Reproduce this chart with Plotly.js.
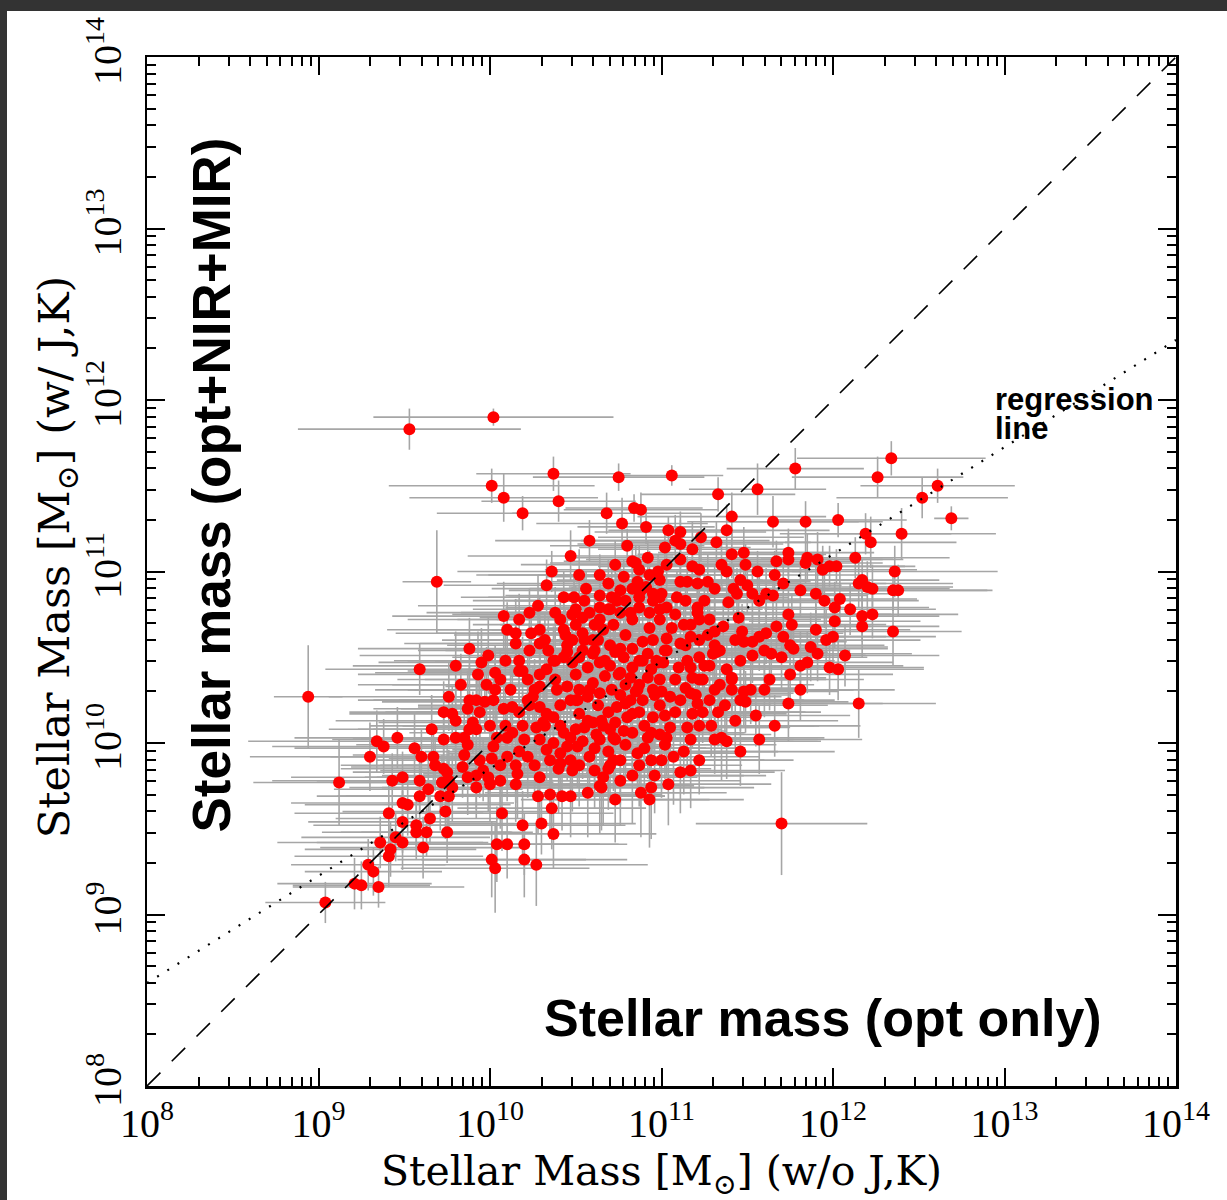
<!DOCTYPE html>
<html><head><meta charset="utf-8">
<script src="https://cdn.plot.ly/plotly-3.0.1.min.js"></script>
<style>
html,body{margin:0;padding:0;background:#333333;width:1227px;height:1200px;overflow:hidden;}
#chart{position:absolute;left:7px;top:11px;width:1220px;height:1189px;background:#ffffff;}
</style></head><body><div id="chart"></div>
<script>
// log10 stellar mass, optical-only fit (x)
const logMassOpt = [
10.02,9.53,10.37,10.75,11.06,10.01,10.08,10.40,10.19,10.84,
10.88,10.68,10.77,10.91,10.58,10.80,11.04,11.02,10.47,10.92,
10.83,10.85,9.69,10.36,10.33,10.78,10.86,10.69,10.56,10.43,
10.49,10.98,11.03,10.88,10.91,10.95,10.28,10.38,10.08,10.54,
10.58,10.64,10.69,10.15,10.15,10.24,10.29,10.29,10.43,10.44,
10.34,10.45,9.99,9.80,9.59,9.93,10.17,10.19,10.29,
11.78,11.33,11.56,12.34,12.26,12.61,12.52,12.69,12.40,12.19,
12.22,12.13,11.41,11.65,11.84,12.03,11.38,11.32,11.23,11.18,
11.11,11.08,11.11,11.18,11.48,11.41,11.35,11.38,11.67,11.74,
11.74,11.56,11.85,11.91,11.84,11.94,11.98,12.02,12.36,12.15,
12.17,12.20,12.23,12.35,12.38,11.71,11.50,11.46,11.42,11.44,
11.27,11.31,11.21,11.15,11.11,11.00,11.09,11.14,11.21,11.21,
10.95,11.03,10.99,10.83,10.87,10.74,10.70,10.76,10.82,10.83,
11.53,11.57,11.61,11.65,11.90,12.04,12.01,11.74,11.76,12.01,
12.17,12.23,12.17,12.35,11.90,11.39,11.45,11.28,11.36,11.31,
11.27,11.13,11.06,10.99,10.93,11.17,11.22,11.11,11.03,10.95,
10.89,11.47,11.43,11.48,11.53,11.57,11.61,11.67,11.71,11.77,
11.70,11.64,11.53,11.87,11.85,11.91,11.81,11.96,12.00,11.31,
11.30,11.38,11.41,11.22,11.17,11.15,11.10,11.01,10.76,10.83,
10.89,10.94,11.98,12.03,
12.15,11.74,11.66,11.70,11.46,11.35,11.38,11.49,11.48,11.60,
11.41,11.41,11.33,11.34,11.24,11.28,11.18,11.24,11.21,11.17,
11.14,11.15,11.13,11.07,11.11,11.05,11.03,11.02,10.95,10.94,
10.92,11.00,10.94,10.86,10.83,10.94,10.88,10.93,10.73,10.78,
10.83,10.73,10.83,10.79,10.72,10.76,10.69,10.66,10.65,10.66,
10.89,10.95,11.00,11.05,10.85,10.82,11.18,11.32,10.98,10.75,
10.70,
8.94,9.12,9.04,9.21,9.25,9.35,9.29,9.32,9.41,9.42,
9.36,9.45,9.49,9.49,9.57,9.57,9.63,9.61,9.41,9.49,
9.52,9.65,9.74,9.75,9.59,9.64,9.43,9.49,9.59,9.30,
9.34,9.38,9.46,9.56,9.60,9.67,9.68,9.73,9.75,9.76,
9.72,9.66,9.73,9.78,9.73,9.80,9.87,9.92,9.76,9.98,
9.97,10.02,9.85,9.87,9.90,9.92,9.84,9.87,9.92,9.96,
9.99,10.00,9.92,9.78,9.76,9.71,10.01,10.07,10.19,10.30,
10.37,10.36,10.28,10.35,10.42,10.47,10.04,10.10,10.20,10.01,
10.03,10.20,10.27,10.06,10.16,10.15,10.22,10.10,10.17,10.02,
10.04,10.10,10.13,10.19,10.27,10.31,10.37,9.94,10.08,10.13,
10.17,10.22,10.25,10.29,10.33,10.29,10.39,10.45,10.52,10.60,
10.64,10.22,10.33,10.37,10.43,10.48,10.52,10.60,10.64,10.78,
10.43,10.47,10.50,10.45,10.51,10.41,10.37,10.33,10.41,10.47,
10.48,10.40,10.55,10.60,10.65,10.58,10.64,10.57,10.64,10.72,
10.74,10.82,10.86,10.97,11.03,10.92,10.51,10.57,10.47,10.57,
10.52,
10.48,10.54,10.60,10.66,10.72,10.79,10.61,10.54,10.70,10.76,10.50,
10.45,10.57,10.67,10.71,10.79,10.87,10.92,10.99,11.08,10.63,
10.69,10.87,10.99,11.08,10.54,10.61,10.69,10.79,10.90,11.02,
11.17,11.22,11.28,11.29,10.52,10.61,10.76,10.96,11.04,11.22,
11.43,11.55,11.57,
9.88,9.95,10.03,10.09,10.12,10.03,10.23,10.32,10.38,10.17,
10.23,10.10,9.88,9.83,9.80,9.85,9.94,10.06,10.15,10.26,
10.29,
10.50,10.55,10.64,10.71,10.79,10.41,10.48,10.61,10.87,10.93,
10.99,11.08,11.17,10.64,10.73,10.52,10.93,11.11,11.22,11.25,
11.49,11.66,11.81,11.95,12.10,12.07,11.75,11.63,11.52,11.81,
11.34,11.46,11.22,
10.63,10.73,10.83,10.67,10.58,10.50,10.41,10.32,10.41,10.73,
10.80,10.90,10.99,11.11,11.20,11.25,11.31,11.37,10.70,10.62,
10.29,10.20,10.09,10.00,9.88,10.06,10.17,10.26,10.50,10.76,
10.96,10.87,11.02,11.14,11.22,10.99,10.87,10.76,10.64,10.55,
10.38,10.23,10.35,10.70,10.87,11.17,11.31,11.46,11.60,11.75
];
// log10 stellar mass, opt+NIR+MIR fit (y)
const logMassAll = [
11.90,11.83,11.57,11.55,11.56,11.50,11.43,11.41,11.34,11.37,
11.36,11.34,11.28,11.26,11.18,11.15,11.24,11.14,11.09,11.08,
11.06,11.05,10.94,11.00,10.92,10.97,10.94,10.93,10.90,10.85,
10.85,11.00,11.04,10.89,10.91,10.87,10.80,10.76,10.74,10.73,
10.76,10.79,10.78,10.64,10.58,10.64,10.66,10.58,10.66,10.63,
10.54,10.57,10.51,10.45,10.43,10.40,10.42,10.42,10.40,
11.60,11.45,11.48,11.66,11.55,11.50,11.43,11.31,11.22,11.22,
11.17,11.08,11.32,11.29,11.29,11.30,11.24,11.17,11.20,11.13,
11.23,11.18,11.16,11.03,11.11,11.10,11.04,11.00,11.06,11.11,
11.07,11.00,11.08,11.07,11.05,11.01,11.03,11.03,11.00,10.93,
10.95,10.91,10.90,10.89,10.89,10.93,10.92,10.95,10.90,10.87,
10.94,10.90,10.93,10.94,10.94,10.87,10.85,10.83,10.79,10.76,
10.83,10.79,10.85,10.90,10.85,10.83,10.78,10.76,10.76,10.72,
10.87,10.83,10.87,10.86,10.87,10.84,10.79,10.75,10.69,10.71,
10.74,10.75,10.68,10.65,10.66,10.82,10.73,10.72,10.68,10.65,
10.63,10.69,10.67,10.72,10.67,10.62,10.60,10.58,10.61,10.60,
10.59,10.65,10.60,10.59,10.59,10.62,10.64,10.68,10.62,10.55,
10.50,10.52,10.51,10.56,10.47,10.52,10.45,10.60,10.62,10.57,
10.52,10.43,10.38,10.50,10.44,10.48,10.44,10.47,10.41,10.44,
10.48,10.43,10.44,10.43,
10.23,10.23,10.10,9.53,9.95,10.03,10.01,10.24,10.30,10.31,
10.31,10.37,10.18,10.34,10.37,10.45,10.17,10.18,10.23,10.29,
10.32,10.09,9.95,9.92,9.83,10.09,10.03,10.16,10.15,10.06,
10.03,9.90,9.90,9.94,9.81,9.74,9.71,9.67,9.67,10.07,
10.06,10.02,10.17,10.23,9.90,9.90,9.85,9.80,9.74,10.10,
10.25,10.31,10.30,10.27,10.30,10.38,10.38,10.53,10.47,10.40,
10.45,
10.27,9.77,9.07,9.18,9.17,9.16,9.29,9.25,9.34,9.38,
9.42,9.45,9.42,9.54,9.52,9.48,9.48,9.39,9.59,9.65,
9.64,9.56,9.60,9.48,9.69,9.73,9.78,9.80,9.78,9.92,
10.01,9.98,10.03,9.97,9.92,9.92,9.87,9.85,9.83,9.78,
9.77,10.08,10.18,10.17,10.02,10.03,10.20,10.25,10.27,10.34,
10.24,10.25,10.03,9.99,10.12,10.08,9.86,9.80,9.81,9.84,
9.80,9.76,9.74,9.74,9.69,9.69,9.91,9.59,9.52,9.53,
9.47,9.62,9.69,9.70,9.69,9.69,9.41,9.41,9.41,9.32,
9.27,9.32,9.29,9.78,9.82,9.76,9.92,9.92,9.95,9.98,
10.03,10.03,10.06,10.10,10.09,10.12,10.15,10.18,10.20,10.21,
10.18,10.25,10.27,10.21,10.17,10.33,10.31,10.33,10.31,10.35,
10.29,10.37,10.43,10.48,10.50,10.47,10.50,10.52,10.47,10.50,
10.06,10.03,10.08,9.98,9.98,9.94,10.00,9.96,9.88,9.90,
9.84,9.85,10.09,10.12,10.13,9.92,9.75,9.71,10.02,10.03,
10.21,10.25,10.31,10.48,10.54,10.52,10.25,10.27,10.25,10.13,
10.17,
10.60,10.64,10.60,10.66,10.69,10.63,10.54,10.54,10.57,10.55,10.69,
10.53,10.44,10.39,10.31,10.34,10.34,10.38,10.37,10.37,10.22,
10.18,10.18,10.22,10.18,10.01,9.97,9.95,9.99,9.97,9.99,
10.02,10.10,10.25,10.10,9.87,9.84,9.78,9.81,9.76,9.90,
10.13,10.16,10.02,
10.55,10.47,10.41,10.48,10.31,10.31,10.54,10.60,10.37,10.72,
10.76,10.66,10.25,10.34,10.13,9.93,9.90,9.87,9.87,9.87,
9.80,
10.78,10.83,10.86,10.85,10.83,10.72,10.75,10.69,10.79,10.76,
10.78,10.75,10.69,10.98,11.04,10.98,10.98,11.07,11.01,10.83,
11.04,10.98,10.89,10.83,10.78,10.51,10.40,10.37,10.31,10.31,
10.54,10.48,10.37,
10.60,10.53,10.55,10.48,10.31,10.25,10.22,10.10,10.10,10.12,
10.15,10.10,10.05,10.25,10.28,10.45,10.31,10.22,10.08,10.05,
10.02,10.02,10.10,10.10,10.08,10.37,10.48,10.31,10.40,10.28,
10.28,10.48,10.54,10.57,10.72,10.95,11.01,10.89,10.72,10.60,
10.48,10.22,9.90,9.87,9.87,9.84,10.02,10.25,10.54,10.57
];
// 1-sigma uncertainties in dex (x = opt-only, y = opt+NIR+MIR)
const errOptDex = [
.70,.65,.45,.50,.30,.60,.55,.45,.50,.40,
.45,.55,.50,.40,.55,.45,.35,.50,.60,.45,
.40,.50,.20,.55,.60,.45,.50,.65,.55,.60,
.50,.45,.55,.60,.45,.50,.70,.55,.65,.60,
.50,.55,.60,.70,.65,.55,.60,.70,.55,.65,
.60,.70,.75,.60,.55,.70,.65,.60,.70,
.40,.45,.40,.55,.50,.45,.50,.10,.55,.50,
.50,.55,.55,.50,.45,.40,.60,.55,.60,.55,
.50,.55,.60,.55,.50,.55,.60,.50,.45,.50,
.55,.45,.50,.50,.45,.55,.50,.40,.60,.55,
.45,.50,.45,.55,.55,.60,.55,.65,.60,.55,
.60,.55,.60,.65,.55,.60,.65,.55,.60,.55,
.65,.60,.55,.60,.55,.65,.60,.55,.65,.60,
.55,.50,.60,.55,.50,.45,.55,.60,.55,.50,
.45,.50,.45,.40,.55,.60,.55,.65,.60,.55,
.60,.65,.60,.55,.60,.65,.55,.60,.55,.50,
.55,.60,.55,.50,.55,.50,.45,.55,.60,.55,
.50,.55,.50,.45,.50,.55,.60,.55,.60,.65,
.55,.60,.55,.60,.65,.60,.55,.60,.55,.60,
.45,.50,.55,.50,
.45,.55,.50,.50,.55,.60,.55,.60,.55,.50,
.60,.55,.60,.55,.60,.65,.55,.60,.55,.60,
.65,.60,.55,.50,.55,.60,.65,.55,.60,.55,
.65,.60,.55,.60,.65,.60,.50,.55,.55,.60,
.65,.60,.55,.60,.55,.65,.60,.55,.60,.65,
.60,.55,.60,.65,.60,.55,.60,.65,.55,.60,
.55,
.20,.50,.35,.45,.40,.50,.45,.40,.55,.50,
.60,.55,.50,.55,.60,.55,.50,.60,.55,.65,
.60,.55,.60,.50,.60,.55,.70,.65,.60,.70,
.75,.65,.60,.70,.65,.60,.55,.60,.55,.60,
.65,.60,.55,.60,.65,.60,.55,.60,.70,.55,
.60,.55,.60,.65,.55,.60,.65,.60,.55,.60,
.65,.60,.55,.60,.65,.55,.60,.65,.60,.55,
.60,.55,.60,.65,.60,.55,.60,.65,.60,.55,
.55,.60,.65,.60,.55,.60,.65,.60,.55,.60,
.65,.55,.60,.55,.60,.65,.60,.55,.60,.55,
.60,.65,.60,.55,.60,.55,.65,.60,.55,.60,
.65,.60,.55,.60,.65,.60,.55,.60,.55,.60,
.65,.60,.55,.60,.55,.65,.60,.55,.60,.65,
.60,.55,.60,.55,.65,.60,.55,.60,.65,.60,
.55,.60,.65,.60,.55,.60,.55,.60,.65,.60,
.55,
.60,.55,.60,.65,.60,.55,.60,.65,.60,.55,.60,
.60,.65,.55,.60,.70,.65,.60,.55,.65,.60,
.70,.60,.65,.55,.60,.65,.70,.60,.55,.65,
.60,.70,.55,.60,.65,.60,.70,.65,.60,.55,
.60,.55,.60,
.65,.60,.70,.65,.60,.70,.65,.60,.55,.65,
.60,.70,.65,.60,.70,.65,.60,.70,.65,.60,
.65,
.60,.65,.55,.60,.65,.60,.70,.55,.60,.65,
.60,.55,.60,.65,.55,.60,.65,.55,.60,.55,
.55,.50,.60,.55,.50,.55,.60,.55,.60,.55,
.60,.55,.60,
.65,.60,.55,.65,.60,.70,.65,.60,.65,.60,
.55,.60,.65,.60,.55,.60,.55,.60,.65,.60,
.70,.65,.60,.70,.65,.60,.65,.70,.60,.55,
.60,.65,.55,.60,.55,.60,.55,.65,.60,.65,
.70,.65,.60,.55,.60,.55,.60,.55,.50,.55
];
const errAllDex = [
.05,.12,.10,.08,.06,.10,.14,.12,.10,.08,
.10,.12,.15,.10,.12,.10,.08,.12,.15,.10,
.08,.10,.30,.12,.15,.10,.12,.14,.10,.15,
.12,.10,.12,.15,.10,.12,.18,.15,.20,.14,
.12,.15,.12,.20,.18,.15,.20,.16,.18,.15,
.20,.18,.22,.20,.15,.25,.18,.20,.18,
.12,.10,.15,.10,.12,.10,.12,.07,.15,.12,
.15,.12,.14,.15,.12,.10,.15,.12,.14,.16,
.12,.15,.14,.12,.15,.14,.12,.16,.12,.14,
.15,.12,.14,.16,.12,.14,.12,.10,.15,.14,
.12,.15,.14,.12,.15,.14,.16,.12,.14,.15,
.16,.14,.12,.15,.16,.14,.15,.12,.16,.14,
.15,.16,.14,.18,.15,.16,.14,.15,.12,.16,
.14,.16,.15,.14,.18,.16,.15,.14,.18,.16,
.15,.14,.18,.20,.15,.16,.18,.14,.16,.18,
.15,.16,.18,.15,.16,.14,.18,.20,.16,.15,
.18,.16,.15,.18,.16,.20,.18,.16,.15,.18,
.20,.18,.16,.20,.18,.16,.20,.18,.22,.20,
.18,.16,.20,.18,.20,.22,.18,.20,.16,.20,
.18,.20,.16,.18,
.20,.22,.18,.30,.20,.25,.22,.18,.20,.16,
.18,.16,.20,.18,.16,.15,.20,.18,.16,.18,
.15,.22,.25,.28,.24,.20,.22,.18,.20,.22,
.24,.22,.25,.20,.28,.30,.26,.28,.25,.30,
.20,.22,.18,.20,.18,.26,.24,.28,.25,.30,
.28,.18,.20,.18,.16,.18,.20,.16,.18,.20,
.18,
.30,.25,.12,.15,.14,.12,.15,.14,.18,.16,
.15,.14,.16,.18,.15,.16,.14,.18,.20,.16,
.18,.15,.16,.18,.20,.18,.16,.15,.18,.20,
.18,.16,.18,.20,.16,.18,.15,.18,.20,.18,
.16,.20,.18,.16,.18,.20,.22,.18,.20,.22,
.18,.16,.20,.22,.18,.20,.18,.22,.20,.18,
.20,.22,.18,.20,.22,.20,.18,.22,.20,.18,
.20,.24,.22,.26,.20,.24,.22,.20,.18,.22,
.26,.22,.24,.28,.26,.22,.24,.26,.22,.24,
.20,.22,.24,.20,.22,.24,.20,.22,.20,.24,
.22,.20,.18,.20,.22,.20,.18,.20,.22,.20,
.18,.20,.22,.20,.18,.22,.20,.18,.20,.22,
.20,.18,.22,.20,.24,.22,.20,.18,.22,.20,
.24,.26,.22,.20,.24,.22,.28,.26,.22,.24,
.20,.22,.20,.18,.22,.20,.18,.20,.22,.20,
.18,
.16,.18,.16,.18,.16,.18,.20,.18,.16,.18,.16,
.18,.20,.16,.22,.18,.20,.16,.22,.18,.20,
.22,.18,.20,.16,.22,.20,.24,.18,.22,.20,
.18,.16,.20,.18,.24,.22,.26,.22,.24,.20,
.16,.18,.20,
.18,.20,.16,.18,.20,.18,.16,.15,.18,.15,
.14,.16,.20,.18,.22,.20,.22,.24,.22,.20,
.24,
.14,.15,.14,.16,.14,.15,.16,.18,.15,.16,
.15,.16,.18,.12,.14,.15,.14,.12,.14,.16,
.12,.14,.15,.16,.15,.18,.20,.18,.20,.18,
.16,.18,.20,
.16,.18,.16,.18,.20,.18,.20,.22,.20,.18,
.20,.22,.20,.18,.20,.16,.18,.20,.22,.20,
.22,.20,.22,.20,.22,.18,.16,.18,.18,.20,
.18,.16,.15,.16,.14,.12,.14,.15,.16,.16,
.18,.20,.24,.22,.24,.22,.20,.18,.16,.16
];
// axis ticks (log10 exponents) and labels
const tickExponents = [8,9,10,11,12,13,14];
const tickLabels = ['10<sup>8</sup>','10<sup>9</sup>','10<sup>10</sup>','10<sup>11</sup>','10<sup>12</sup>','10<sup>13</sup>','10<sup>14</sup>'];
// reference lines: one-to-one and regression (log y = a + b (log x - 8))
const oneToOneLog = [8, 14];
const regIntercept = 8.60;
const regSlope = 0.625;

const n = Math.min(logMassOpt.length, logMassAll.length, errOptDex.length, errAllDex.length);
const X = [], Y = [], xp = [], xm = [], yp = [], ym = [];
for (let i = 0; i < n; i++) {
  const lx = logMassOpt[i], ly = logMassAll[i];
  X.push(Math.pow(10, lx)); Y.push(Math.pow(10, ly));
  xp.push(Math.pow(10, lx + errOptDex[i]) - Math.pow(10, lx));
  xm.push(Math.pow(10, lx) - Math.pow(10, lx - errOptDex[i]));
  yp.push(Math.pow(10, ly + errAllDex[i]) - Math.pow(10, ly));
  ym.push(Math.pow(10, ly) - Math.pow(10, ly - errAllDex[i]));
}
const majorVals = tickExponents.map(e => Math.pow(10, e));
const minorVals = [];
for (let e = 8; e < 14; e++) for (let k = 2; k <= 9; k++) minorVals.push(k * Math.pow(10, e));

const regX = oneToOneLog.map(v => Math.pow(10, v));
const regY = oneToOneLog.map(v => Math.pow(10, regIntercept + regSlope * (v - 8)));

const traces = [
  {x: X, y: Y, type: 'scatter', mode: 'markers', hoverinfo: 'skip',
   marker: {size: 12, color: 'rgba(0,0,0,0)'},
   error_x: {type: 'data', symmetric: false, array: xp, arrayminus: xm, color: '#a6a6a6', thickness: 1.6, width: 0},
   error_y: {type: 'data', symmetric: false, array: yp, arrayminus: ym, color: '#a6a6a6', thickness: 1.6, width: 0}},
  {x: X, y: Y, type: 'scatter', mode: 'markers', hoverinfo: 'skip',
   marker: {size: 12, color: '#ff0000', line: {width: 0}}},
  {x: regX, y: regX, type: 'scatter', mode: 'lines', hoverinfo: 'skip',
   line: {color: '#000', width: 1.6, dash: '19px,16px'}},
  {x: regX, y: regY, type: 'scatter', mode: 'lines', hoverinfo: 'skip',
   line: {color: '#000', width: 2.2, dash: '2px,10px'}}
];

const axisCommon = {
  type: 'log', range: [8, 14], tickmode: 'array', tickvals: majorVals, ticktext: tickLabels,
  ticks: 'inside', ticklen: 18, tickwidth: 2, tickcolor: '#000',
  minor: {tickmode: 'array', tickvals: minorVals, ticks: 'inside', ticklen: 9, tickwidth: 2, tickcolor: '#000', showgrid: false},
  showline: true, linecolor: '#000', linewidth: 2.5, mirror: 'ticks',
  showgrid: false, zeroline: false,
  tickfont: {family: 'Liberation Serif', size: 40, color: '#000'}
};

const layout = {
  width: 1220, height: 1189,
  margin: {l: 140, r: 51, t: 46, b: 114},
  paper_bgcolor: '#ffffff', plot_bgcolor: '#ffffff',
  showlegend: false,
  xaxis: Object.assign({}, axisCommon, {tickangle: 0}),
  yaxis: Object.assign({}, axisCommon, {tickangle: -90, ticklabelstandoff: 8}),
  annotations: [
    {text: 'Stellar Mass [M<sub>⊙</sub>] (w/o J,K)', xref: 'paper', yref: 'paper', x: 0.5, y: -0.057,
     xanchor: 'center', yanchor: 'top', showarrow: false, font: {family: 'DejaVu Serif', size: 41, color: '#000'}},
    {text: 'Stellar Mass [M<sub>⊙</sub>] (w/ J,K)', xref: 'paper', yref: 'paper', x: -0.1165, y: 0.514,
     xanchor: 'left', yanchor: 'middle', textangle: -90, showarrow: false, font: {family: 'DejaVu Serif', size: 43, color: '#000'}},
    {text: '<b>Stellar mass (opt+NIR+MIR)</b>', xref: 'paper', yref: 'paper', x: 0.0627, y: 0.584,
     xanchor: 'center', yanchor: 'middle', textangle: -90, showarrow: false, font: {family: 'Liberation Sans', size: 53, color: '#000'}},
    {text: '<b>Stellar mass (opt only)</b>', xref: 'paper', yref: 'paper', x: 0.6565, y: 0.0661,
     xanchor: 'center', yanchor: 'middle', showarrow: false, font: {family: 'Liberation Sans', size: 52, color: '#000'}},
    {text: '<b>regression</b>', xref: 'paper', yref: 'paper', x: 0.8222, y: 0.6667,
     xanchor: 'left', yanchor: 'middle', showarrow: false, font: {family: 'Liberation Sans', size: 31, color: '#000'}},
    {text: '<b>line</b>', xref: 'paper', yref: 'paper', x: 0.8222, y: 0.6385,
     xanchor: 'left', yanchor: 'middle', showarrow: false, font: {family: 'Liberation Sans', size: 31, color: '#000'}}
  ]
};

Plotly.newPlot('chart', traces, layout, {displayModeBar: false, staticPlot: true});
</script>
</body></html>
